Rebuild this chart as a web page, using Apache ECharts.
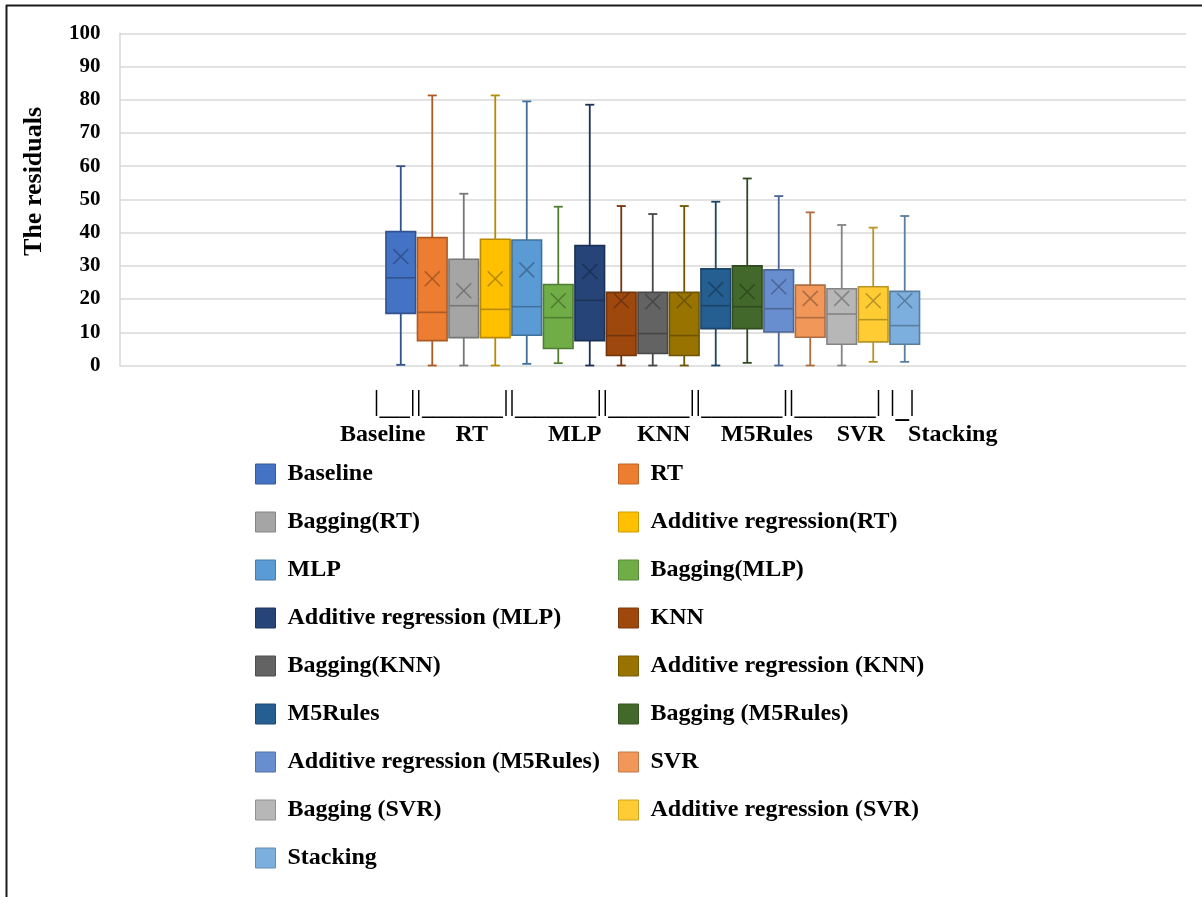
<!DOCTYPE html>
<html>
<head>
<meta charset="utf-8">
<title>The residuals</title>
<script src="https://cdn.jsdelivr.net/npm/echarts@6/dist/echarts.min.js"></script>
<style>
  html, body { margin: 0; padding: 0; background: #ffffff; }
  #chart { width: 1202px; height: 897px; }
</style>
</head>
<body>
<div id="chart"></div>
<script>
// Models, in drawing order
const models = [
  'Baseline', 'RT', 'Bagging(RT)', 'Additive regression(RT)',
  'MLP', 'Bagging(MLP)', 'Additive regression (MLP)',
  'KNN', 'Bagging(KNN)', 'Additive regression (KNN)',
  'M5Rules', 'Bagging (M5Rules)', 'Additive regression (M5Rules)',
  'SVR', 'Bagging (SVR)', 'Additive regression (SVR)',
  'Stacking'
];
const colors = [
  '#4472C4', '#ED7D31', '#A5A5A5', '#FFC000',
  '#5B9BD5', '#70AD47', '#264478',
  '#9E480E', '#636363', '#997300',
  '#255E91', '#43682B', '#698ED0',
  '#F1975A', '#B7B7B7', '#FFCD33',
  '#7CAFDD'
];
// Five-number summaries and means of the residuals
const mins    = [0.2, 0.0, 0.0, 0.0, 0.5, 0.7, 0.0, 0.0, 0.0, 0.0, 0.0, 0.8, 0.0, 0.0, 0.0, 1.1, 1.1];
const q1s     = [15.7, 7.5, 8.4, 8.4, 9.1, 5.1, 7.5, 3.0, 3.6, 3.0, 11.1, 11.1, 10.1, 8.5, 6.4, 7.1, 6.4];
const medians = [26.4, 16.0, 18.0, 16.9, 17.7, 14.4, 19.6, 9.0, 9.6, 9.0, 18.0, 17.7, 17.1, 14.4, 15.5, 13.8, 12.0];
const q3s     = [40.3, 38.5, 32.0, 38.0, 37.8, 24.4, 36.1, 22.0, 22.0, 22.0, 29.1, 30.0, 28.8, 24.2, 23.1, 23.7, 22.3];
const maxs    = [60.0, 81.3, 51.7, 81.3, 79.5, 47.8, 78.5, 48.0, 45.6, 48.0, 49.3, 56.3, 51.0, 46.1, 42.3, 41.5, 45.0];
const means   = [32.8, 26.1, 22.5, 26.1, 28.8, 19.5, 28.3, 19.5, 19.2, 19.5, 22.9, 22.2, 23.7, 20.2, 20.2, 19.5, 19.5];

// Group captions under the boxes
const groupNames = ['Baseline', 'RT', 'MLP', 'KNN', 'M5Rules', 'SVR', 'Stacking'];
const bracketUnderscores = [3, 8, 8, 8, 8, 8, 1];

const SERIF = "'Liberation Serif', 'Times New Roman', Times, serif";

function darken(hex, k) {
  const n = parseInt(hex.slice(1), 16);
  const r = Math.round(((n >> 16) & 255) * k);
  const g = Math.round(((n >> 8) & 255) * k);
  const b = Math.round((n & 255) * k);
  return 'rgb(' + r + ',' + g + ',' + b + ')';
}

// Bracket line: |___||________| ... |_|
function bracketLine() {
  let s = '';
  const last = bracketUnderscores.length - 1;
  bracketUnderscores.forEach(function (n, i) {
    if (i === last) {
      s += '{gap| }{p||}{uw|' + '_'.repeat(n) + '}{p||}';
    } else {
      s += '{p||}{u|' + '_'.repeat(n) + '}{p||}';
    }
  });
  return s + '{tail| }';
}
// Caption line, each word centred at its own spot
const captionGaps = [89, 103, 89, 103, 94, 92];
function captionLine() {
  let s = '{lead| }';
  groupNames.forEach(function (w, i) {
    s += '{w|' + w + '}';
    if (i < captionGaps.length) s += '{g' + i + '| }';
  });
  return s;
}
const captionRich = {
  p: { fontFamily: SERIF, fontSize: 30, lineHeight: 34, color: '#000' },
  u: { fontFamily: SERIF, fontSize: 20.3, fontWeight: 'bold', lineHeight: 34, color: '#000', padding: [14, 0, 0, 0] },
  uw: { fontFamily: SERIF, fontSize: 27, fontWeight: 'bold', lineHeight: 34, color: '#000', padding: [16, 0, 0, 0] },
  gap: { fontSize: 20, width: 8 },
  tail: { fontSize: 20, width: 17 },
  lead: { fontSize: 24, width: 30 },
  w: { fontFamily: SERIF, fontSize: 24, fontWeight: 'bold', lineHeight: 30, color: '#000', width: 1, align: 'center' }
};
captionGaps.forEach(function (g, i) {
  captionRich['g' + i] = { fontSize: 24, width: g - 1 };
});

const series = models.map(function (name, i) {
  const base = colors[i];
  const dark = darken(base, 0.72);
  return {
    name: name,
    type: 'custom',
    xAxisIndex: 1,
    yAxisIndex: 0,
    itemStyle: { color: base },
    encode: { x: 0, y: [1, 2, 3, 4, 5, 6] },
    data: [[i, mins[i], q1s[i], medians[i], q3s[i], maxs[i], means[i]]],
    renderItem: function (params, api) {
      const x = api.value(0);
      const pMin = api.coord([x, api.value(1)]);
      const pQ1 = api.coord([x, api.value(2)]);
      const pMed = api.coord([x, api.value(3)]);
      const pQ3 = api.coord([x, api.value(4)]);
      const pMax = api.coord([x, api.value(5)]);
      const pMean = api.coord([x, api.value(6)]);
      const cx = pMed[0];
      const half = api.size([1, 0])[0] * 0.47;
      const cap = 4.5;
      const xm = 7.5;
      const lineStyle = { stroke: dark, lineWidth: 1.8 };
      return {
        type: 'group',
        children: [
          { type: 'line', shape: { x1: cx, y1: pMax[1], x2: cx, y2: pQ3[1] }, style: lineStyle },
          { type: 'line', shape: { x1: cx, y1: pQ1[1], x2: cx, y2: pMin[1] }, style: lineStyle },
          { type: 'line', shape: { x1: cx - cap, y1: pMax[1], x2: cx + cap, y2: pMax[1] }, style: lineStyle },
          { type: 'line', shape: { x1: cx - cap, y1: pMin[1], x2: cx + cap, y2: pMin[1] }, style: lineStyle },
          {
            type: 'rect',
            shape: { x: cx - half, y: pQ3[1], width: half * 2, height: pQ1[1] - pQ3[1] },
            style: { fill: base, stroke: dark, lineWidth: 1.6 }
          },
          { type: 'line', shape: { x1: cx - half, y1: pMed[1], x2: cx + half, y2: pMed[1] }, style: { stroke: dark, lineWidth: 1.6 } },
          { type: 'line', shape: { x1: cx - xm, y1: pMean[1] - xm, x2: cx + xm, y2: pMean[1] + xm }, style: { stroke: dark, lineWidth: 1.6 } },
          { type: 'line', shape: { x1: cx - xm, y1: pMean[1] + xm, x2: cx + xm, y2: pMean[1] - xm }, style: { stroke: dark, lineWidth: 1.6 } }
        ]
      };
    }
  };
});

function legendItems(parity) {
  return models
    .map(function (name, i) {
      return {
        name: name,
        icon: 'rect',
        itemStyle: { color: colors[i], borderColor: darken(colors[i], 0.8), borderWidth: 1 }
      };
    })
    .filter(function (_, i) { return i % 2 === parity; });
}
const legendText = {
  fontFamily: SERIF, fontSize: 24, fontWeight: 'bold', color: '#000',
  lineHeight: 28, padding: [0, 0, 0, 7]
};

const chart = echarts.init(document.getElementById('chart'), null, { renderer: 'canvas' });
chart.setOption({
  animation: false,
  backgroundColor: '#ffffff',
  grid: { left: 119.5, right: 16, top: 33.3, bottom: 531.5, containLabel: false },
  xAxis: [
    {
      type: 'category',
      data: ['groups'],
      position: 'bottom',
      axisLine: { show: false },
      axisTick: { show: false },
      splitLine: { show: false },
      axisLabel: {
        margin: 20,
        formatter: function () { return bracketLine() + '\n' + captionLine(); },
        rich: captionRich
      }
    },
    {
      type: 'value',
      min: -8.93,
      max: 24.93,
      show: false
    }
  ],
  yAxis: {
    type: 'value',
    min: 0,
    max: 100,
    interval: 10,
    name: 'The residuals',
    nameLocation: 'middle',
    nameGap: 72,
    nameRotate: 90,
    nameTextStyle: {
      fontFamily: SERIF, fontSize: 26, fontWeight: 'bold', color: '#000',
      padding: [0, 0, 0, 36]
    },
    axisLine: { show: true, onZero: false, lineStyle: { color: '#D9D9D9', width: 1.5 } },
    axisTick: { show: false },
    axisLabel: {
      margin: 19,
      fontFamily: SERIF, fontSize: 21, fontWeight: 'bold', color: '#000'
    },
    splitLine: { lineStyle: { color: '#D9D9D9', width: 1.5 } }
  },
  legend: [
    {
      data: legendItems(0),
      orient: 'vertical',
      left: 255,
      top: 460,
      itemWidth: 20,
      itemHeight: 20,
      itemGap: 20,
      padding: 0,
      selectedMode: false,
      textStyle: legendText
    },
    {
      data: legendItems(1),
      orient: 'vertical',
      left: 618,
      top: 460,
      itemWidth: 20,
      itemHeight: 20,
      itemGap: 20,
      padding: 0,
      selectedMode: false,
      textStyle: legendText
    }
  ],
  graphic: [
    { type: 'line', shape: { x1: 6, y1: 5.5, x2: 1202, y2: 5.5 }, style: { stroke: '#1a1a1a', lineWidth: 2 }, silent: true },
    { type: 'line', shape: { x1: 6.5, y1: 5, x2: 6.5, y2: 897 }, style: { stroke: '#1a1a1a', lineWidth: 2 }, silent: true }
  ],
  series: series
});
</script>
</body>
</html>
